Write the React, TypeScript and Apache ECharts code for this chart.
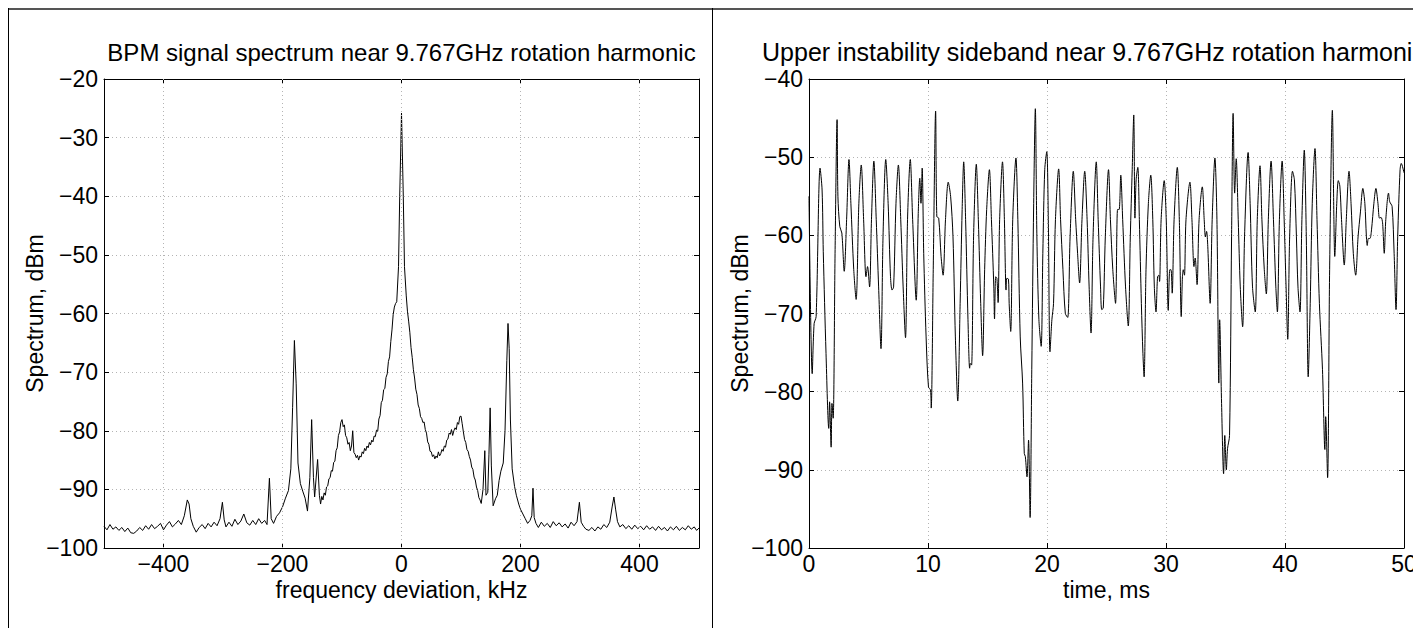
import React, { useEffect, useRef } from 'react';
import * as echarts from 'echarts';

const FONT = '"Liberation Sans", Arial, Helvetica, sans-serif';

// ---------- Left panel: BPM spectrum (frequency deviation kHz, dBm) ----------
const spectrumLowerTail: [number, number][] = [
  [-500, -96.3], [-495, -96.9], [-490, -96.0], [-485, -96.8], [-480, -96.4], [-475, -97.0],
  [-470, -96.5], [-465, -97.2], [-460, -96.6], [-455, -97.4], [-450, -97.5], [-445, -97.1],
  [-440, -96.5], [-435, -97.0], [-430, -96.2], [-425, -96.8], [-420, -96.0], [-415, -96.7],
  [-410, -96.3], [-405, -95.8], [-400, -96.9], [-395, -96.1], [-390, -95.5], [-385, -96.4],
  [-380, -95.9], [-375, -95.3], [-370, -96.0], [-365, -94.5], [-360, -91.8], [-357, -92.5],
  [-354, -95.0], [-350, -96.3], [-345, -97.3], [-340, -96.5], [-335, -96.0], [-330, -96.7],
  [-325, -95.8], [-320, -96.4], [-315, -95.6], [-310, -96.2], [-305, -95.0], [-301, -92.2],
  [-298, -95.2], [-295, -96.4], [-290, -95.6], [-285, -96.3], [-280, -95.1], [-275, -96.0],
  [-270, -95.4], [-265, -94.2], [-260, -95.7], [-255, -96.1], [-250, -95.3], [-245, -96.0],
  [-240, -95.0], [-235, -95.8], [-230, -95.3], [-226, -96.0], [-222, -88.1], [-219, -95.0],
  [-215, -95.8], [-210, -94.6], [-205, -94.0], [-200, -93.0], [-195, -91.5], [-190, -90.2],
];

const spectrumCore: [number, number][] = [
  [-186, -86.5], [-183, -76.0], [-180, -64.6], [-177, -72.0], [-174, -85.5], [-170, -89.0],
  [-166, -90.3], [-162, -91.5], [-158, -93.7], [-154, -88.0], [-151, -78.1], [-148, -88.0],
  [-146, -91.3], [-141, -84.9], [-138, -91.0], [-136, -92.5], [-134, -91.2], [-132, -91.8],
  [-130, -90.6], [-128, -91.0], [-126, -89.6], [-124, -89.4], [-122, -88.2], [-120, -88.0],
  [-118, -86.8], [-116, -86.9], [-114, -85.4], [-112, -85.2], [-110, -83.4], [-108, -82.9],
  [-106, -80.8], [-104, -80.2], [-102, -78.6], [-100, -78.1], [-98, -79.3], [-96, -79.0],
  [-94, -80.8], [-92, -81.2], [-90, -82.3], [-88, -82.0], [-86, -83.4], [-84, -82.6],
  [-82, -80.0], [-80, -83.7], [-78, -84.0], [-76, -84.6], [-74, -84.2], [-72, -85.0],
  [-70, -84.3], [-68, -84.5], [-66, -83.6], [-64, -83.9], [-62, -83.0], [-60, -83.4],
  [-58, -82.6], [-56, -82.9], [-54, -82.0], [-52, -82.4], [-50, -81.6], [-48, -81.9],
  [-46, -80.9], [-44, -81.0], [-42, -79.9], [-40, -80.1], [-38, -78.0], [-36, -77.4],
  [-34, -75.2], [-32, -74.8], [-30, -73.0], [-28, -72.8], [-26, -70.9], [-24, -70.3],
  [-22, -68.2], [-20, -67.4], [-18, -64.8], [-16, -62.8], [-14, -60.2], [-12, -58.9],
  [-10, -58.3], [-8, -58.0], [-5, -52.0], [-3, -40.0], [0, -25.8], [3, -40.0],
  [5, -52.0], [8, -57.0], [10, -59.6], [12, -61.3], [14, -63.2], [16, -65.8],
  [18, -67.5], [20, -69.6], [22, -71.0], [24, -72.9], [26, -73.8], [28, -75.6],
  [30, -76.2], [32, -77.6], [34, -77.9], [36, -78.6], [38, -78.5], [40, -79.8],
  [42, -80.4], [44, -81.9], [46, -82.3], [48, -83.5], [50, -83.6], [52, -84.4],
  [54, -84.1], [56, -84.8], [58, -84.3], [60, -84.6], [62, -83.6], [64, -84.3],
  [66, -83.9], [68, -83.2], [70, -83.5], [72, -82.6], [74, -82.8], [76, -81.6],
  [78, -81.4], [80, -80.4], [82, -80.6], [84, -79.8], [86, -80.8], [88, -80.0],
  [90, -79.5], [92, -79.8], [94, -78.6], [96, -78.9], [98, -77.6], [100, -77.5],
  [102, -78.8], [104, -80.2], [106, -81.5], [108, -82.0], [110, -83.2], [112, -83.5],
  [114, -84.4], [116, -85.0], [118, -86.2], [120, -86.6], [122, -87.9], [124, -88.4],
  [126, -89.6], [128, -90.2], [130, -91.4], [132, -91.8], [134, -92.4], [137, -90.0],
  [140, -83.4], [142, -91.0], [145, -90.5], [147, -84.0], [149, -76.1], [151, -86.0],
  [154, -92.8], [158, -91.6], [161, -91.0], [164, -88.5], [167, -86.9], [171, -85.5],
  [174, -80.0], [177, -68.0], [179, -61.7], [181, -66.0], [183, -78.0], [186, -86.5],
  [190, -89.5], [193, -91.0], [197, -92.5],
];

const spectrumUpperTail: [number, number][] = [
  [200, -93.4], [204, -94.2], [208, -95.0], [212, -95.8], [216, -95.3], [219, -94.5],
  [221, -89.8], [223, -94.8], [226, -95.8], [230, -96.5], [235, -95.6], [240, -96.3],
  [245, -95.8], [250, -96.5], [255, -95.5], [260, -96.2], [265, -95.7], [270, -96.4],
  [275, -95.9], [280, -96.6], [285, -95.6], [290, -96.2], [295, -95.5], [299, -92.2],
  [302, -95.6], [306, -96.3], [310, -96.8], [315, -97.0], [320, -96.5], [325, -97.1],
  [330, -96.4], [335, -96.8], [340, -96.0], [345, -96.5], [350, -95.6], [354, -93.0],
  [357, -91.3], [360, -93.5], [363, -95.5], [367, -96.4], [372, -96.0], [377, -96.7],
  [382, -96.2], [387, -96.8], [392, -96.1], [397, -96.7], [402, -96.3], [407, -96.9],
  [412, -96.2], [417, -96.8], [422, -96.4], [427, -97.0], [432, -96.3], [437, -96.9],
  [442, -96.5], [447, -97.1], [452, -96.4], [457, -96.9], [462, -96.3], [467, -97.0],
  [472, -96.5], [477, -96.9], [482, -96.2], [487, -96.8], [492, -96.4], [496, -97.0],
  [500, -96.6],
];

// ---------- Right panel: upper sideband vs time (ms, dBm) ----------
const sidebandEarly: [number, number][] = [
  [0.0, -55.0], [0.27, -77.7], [0.43, -71.3], [0.6, -70.4], [0.93, -51.4], [1.1, -54.2],
  [1.2, -62.1], [1.43, -75.1], [1.66, -84.7], [1.73, -81.3], [1.86, -87.1], [1.93, -81.5],
  [2.03, -83.4], [2.19, -62.3], [2.36, -45.2], [2.43, -55.0], [2.59, -58.9], [2.76, -59.7],
  [2.96, -64.6], [3.16, -58.0], [3.36, -50.3], [3.52, -55.9], [3.76, -64.4], [3.96, -68.2],
  [4.19, -55.9], [4.39, -51.0], [4.59, -58.0], [4.79, -65.3], [4.92, -64.0], [5.09, -66.6],
  [5.25, -58.0], [5.45, -50.5], [5.65, -58.0], [5.85, -66.6], [6.05, -74.5], [6.22, -60.2],
  [6.45, -50.3], [6.65, -55.9], [6.85, -65.3], [6.98, -67.0], [7.11, -66.6], [7.31, -55.9],
  [7.51, -51.0], [7.71, -58.0], [7.91, -66.6], [8.11, -73.1], [8.28, -58.0], [8.51, -50.3],
  [8.71, -58.0], [9.01, -68.3], [9.18, -57.2], [9.31, -52.7], [9.41, -55.9], [9.51, -51.4],
  [9.64, -62.3], [9.84, -73.0], [10.04, -79.4], [10.21, -79.8], [10.27, -82.1], [10.44, -64.4],
  [10.64, -44.1], [10.74, -57.6], [10.9, -57.8], [11.1, -62.7], [11.27, -65.1], [11.47, -58.0],
  [11.7, -53.2], [11.9, -55.0], [12.1, -60.2], [12.3, -73.0], [12.5, -81.2], [12.7, -68.7],
  [12.87, -56.7], [13.0, -50.6], [13.16, -58.0], [13.36, -70.8], [13.5, -77.0], [13.56, -76.4],
  [13.66, -76.6], [13.83, -60.2], [14.06, -50.9], [14.23, -58.0], [14.43, -68.7], [14.59, -75.4],
  [14.76, -64.4], [14.93, -56.7], [15.16, -51.6], [15.33, -58.0], [15.53, -66.6], [15.59, -70.7],
  [15.69, -65.3], [15.79, -65.5], [15.89, -68.6], [16.02, -58.0], [16.26, -50.6], [16.42, -58.0],
  [16.56, -67.0], [16.62, -65.5], [16.76, -65.6], [16.82, -68.7], [16.95, -72.3],
];

const sidebandMiddle: [number, number][] = [
  [17.12, -58.0], [17.39, -50.1], [17.55, -58.0], [17.75, -73.0], [17.95, -78.9], [18.09, -87.9],
  [18.18, -88.3], [18.32, -90.9], [18.45, -86.2], [18.58, -96.1], [18.72, -77.2], [18.88, -55.9],
  [19.02, -43.8], [19.15, -60.2], [19.32, -70.8], [19.51, -74.2], [19.65, -62.3], [19.81, -51.6],
  [19.98, -49.3], [20.11, -58.0], [20.25, -74.9], [20.41, -70.8], [20.55, -68.7], [20.71, -58.0],
  [20.98, -51.5], [21.14, -58.0], [21.34, -64.4], [21.54, -70.0], [21.74, -70.5], [21.94, -60.2],
  [22.21, -51.8], [22.41, -58.0], [22.57, -62.3], [22.74, -66.1], [22.94, -58.0], [23.17, -51.8],
  [23.37, -58.0], [23.54, -66.6], [23.7, -72.5], [23.87, -60.2], [24.14, -50.6], [24.3, -58.0],
  [24.5, -66.6], [24.6, -69.5], [24.73, -69.3], [24.9, -60.2], [25.17, -51.6], [25.33, -58.0],
  [25.53, -64.4], [25.76, -68.7], [25.93, -56.7], [26.06, -56.7], [26.2, -52.3], [26.36, -58.0],
  [26.6, -66.6], [26.83, -71.6], [27.0, -60.2], [27.16, -51.6], [27.29, -44.6], [27.39, -57.8],
  [27.49, -52.9], [27.63, -51.3], [27.76, -58.0], [27.93, -68.7], [28.06, -75.1], [28.16, -78.1],
  [28.32, -64.4], [28.52, -55.9], [28.72, -52.3], [28.89, -58.0], [29.02, -66.6], [29.16, -69.8],
  [29.29, -65.3], [29.39, -65.1], [29.46, -65.9], [29.59, -58.0], [29.85, -53.0], [30.02, -58.0],
  [30.19, -69.6], [30.32, -64.4], [30.42, -64.4], [30.52, -67.4], [30.68, -58.0], [30.95, -51.3],
  [31.12, -58.0], [31.28, -70.4], [31.38, -65.3], [31.45, -64.4], [31.55, -65.1], [31.68, -58.0],
  [32.01, -53.2], [32.18, -58.0], [32.35, -64.0], [32.45, -62.9], [32.61, -66.3], [32.78, -58.0],
  [33.05, -53.8], [33.21, -58.0], [33.31, -60.2], [33.41, -59.5], [33.51, -61.4], [33.71, -68.7],
  [33.88, -58.0],
];

const sidebandLate: [number, number][] = [
  [34.11, -50.1], [34.28, -58.0], [34.44, -78.9], [34.51, -70.8], [34.67, -81.5], [34.84, -90.5],
  [34.94, -85.6], [35.07, -90.0], [35.17, -87.3], [35.34, -85.6], [35.51, -60.2], [35.64, -44.4],
  [35.77, -54.6], [35.9, -50.2], [36.07, -58.0], [36.24, -66.6], [36.44, -71.7], [36.6, -60.2],
  [36.9, -49.4], [37.07, -55.9], [37.27, -66.6], [37.5, -69.8], [37.67, -58.0], [37.9, -51.1],
  [38.06, -58.0], [38.26, -64.4], [38.43, -67.5], [38.6, -58.0], [38.83, -50.5], [39.03, -58.0],
  [39.23, -66.6], [39.36, -69.8], [39.53, -58.0], [39.76, -50.5], [39.93, -58.0], [40.09, -66.6],
  [40.23, -73.3], [40.39, -60.2], [40.63, -51.8], [40.79, -52.9], [40.96, -60.2], [41.09, -66.6],
  [41.26, -69.8], [41.42, -58.0], [41.62, -49.1], [41.79, -60.2], [41.95, -78.1], [42.12, -68.7],
  [42.29, -55.9], [42.52, -48.9], [42.69, -58.0], [42.89, -68.7], [43.15, -77.2], [43.35, -87.4],
  [43.42, -83.2], [43.58, -91.0], [43.75, -64.4], [43.98, -44.0], [44.11, -58.0], [44.18, -62.7],
  [44.35, -55.9], [44.48, -53.0], [44.61, -53.7], [44.75, -58.0], [44.98, -63.8], [45.15, -58.0],
  [45.38, -51.8], [45.55, -55.9], [45.74, -62.3], [45.94, -65.1], [46.14, -60.2], [46.34, -57.0],
  [46.54, -54.0], [46.71, -55.9], [46.84, -60.2], [46.91, -61.3], [47.01, -60.4], [47.14, -60.4],
  [47.27, -59.3], [47.47, -55.9], [47.64, -54.0], [47.81, -55.9], [47.94, -57.8], [48.07, -57.7],
  [48.2, -58.4], [48.34, -62.3], [48.47, -58.0], [48.7, -54.6], [48.8, -55.7], [49.0, -56.3],
  [49.17, -62.3], [49.33, -69.5], [49.47, -60.2], [49.67, -51.6], [49.77, -50.8], [50.0, -52.0],
];

const freqTickValues = [-400, -200, 0, 200, 400];
const leftTitle = 'BPM signal spectrum near 9.767GHz rotation harmonic';
const rightTitle = 'Upper instability sideband near 9.767GHz rotation harmonic';
const leftXName = 'frequency deviation, kHz';
const rightXName = 'time, ms';
const yName = 'Spectrum, dBm';

const minusFmt = (v: number) => String(v).replace('-', '\u2212');

const GRID_COLOR = '#b4b4b4';

function App() {
  const ref = useRef<HTMLDivElement>(null);

  useEffect(() => {
    document.documentElement.style.overflow = 'hidden';
    const chart = echarts.init(ref.current!, undefined, { renderer: 'svg' });

    const axisLine = { show: true, onZero: false, lineStyle: { color: '#000', width: 1 } };
    const tick = { show: true, inside: true, length: 5, lineStyle: { color: '#000', width: 1 } };
    const label = { color: '#000', fontSize: 23, fontFamily: FONT, formatter: minusFmt };
    const split = { show: true, lineStyle: { color: GRID_COLOR, width: 1, type: [1, 3] } };

    const spectrum = [...spectrumLowerTail, ...spectrumCore, ...spectrumUpperTail];
    const sideband = [...sidebandEarly, ...sidebandMiddle, ...sidebandLate];

    const txt = (text: string, x: number, y: number, size: number, rot = 0) => ({
      type: 'text',
      x,
      y,
      rotation: rot,
      silent: true,
      style: {
        text,
        fill: '#000',
        font: `${size}px ${FONT}`,
        align: 'center',
        verticalAlign: 'middle',
      },
    });

    chart.setOption({
      animation: false,
      backgroundColor: '#fff',
      grid: [
        { left: 96, top: 71, width: 595, height: 469 },
        { left: 801, top: 71, width: 595, height: 469 },
      ],
      xAxis: [
        {
          type: 'value', gridIndex: 0, position: 'bottom', min: -500, max: 500, interval: 100,
          axisLine, axisTick: { ...tick, customValues: freqTickValues },
          axisLabel: { ...label, margin: 4, customValues: freqTickValues },
          splitLine: { show: false },
        },
        {
          type: 'value', gridIndex: 0, position: 'top', min: -500, max: 500, interval: 100,
          axisLine, axisTick: { ...tick, customValues: freqTickValues },
          axisLabel: { show: false }, splitLine: { show: false },
        },
        {
          type: 'value', gridIndex: 1, position: 'bottom', min: 0, max: 50, interval: 10,
          axisLine, axisTick: tick, axisLabel: { ...label, margin: 4 }, splitLine: split,
        },
        {
          type: 'value', gridIndex: 1, position: 'top', min: 0, max: 50, interval: 10,
          axisLine, axisTick: tick, axisLabel: { show: false }, splitLine: { show: false },
        },
      ],
      yAxis: [
        {
          type: 'value', gridIndex: 0, position: 'left', min: -100, max: -20, interval: 10,
          axisLine, axisTick: tick, axisLabel: { ...label, margin: 6 }, splitLine: split,
        },
        {
          type: 'value', gridIndex: 0, position: 'right', min: -100, max: -20, interval: 10,
          axisLine, axisTick: tick, axisLabel: { show: false }, splitLine: { show: false },
        },
        {
          type: 'value', gridIndex: 1, position: 'left', min: -100, max: -40, interval: 10,
          axisLine, axisTick: tick, axisLabel: { ...label, margin: 6 }, splitLine: split,
        },
        {
          type: 'value', gridIndex: 1, position: 'right', min: -100, max: -40, interval: 10,
          axisLine, axisTick: tick, axisLabel: { show: false }, splitLine: { show: false },
        },
      ],
      series: [
        {
          type: 'line', xAxisIndex: 0, yAxisIndex: 0, data: spectrum, showSymbol: false,
          symbol: 'none', lineStyle: { color: '#000', width: 1 }, silent: true,
          markLine: {
            silent: true, symbol: 'none', label: { show: false },
            lineStyle: { color: GRID_COLOR, width: 1, type: [1, 3] },
            data: freqTickValues.map((v) => ({ xAxis: v })),
          },
          z: 3,
        },
        {
          type: 'line', xAxisIndex: 2, yAxisIndex: 2, data: sideband, showSymbol: false,
          symbol: 'none', smooth: 0.3, lineStyle: { color: '#000', width: 1 }, silent: true,
          z: 3,
        },
      ],
      graphic: [
        { type: 'line', silent: true, shape: { x1: 0, y1: 1, x2: 1413, y2: 1 }, style: { stroke: '#555', lineWidth: 2 } },
        { type: 'line', silent: true, shape: { x1: 0.5, y1: 0, x2: 0.5, y2: 620 }, style: { stroke: '#000', lineWidth: 1 } },
        { type: 'line', silent: true, shape: { x1: 704.5, y1: 0, x2: 704.5, y2: 620 }, style: { stroke: '#000', lineWidth: 1 } },
        txt(leftTitle, 393.5, 44, 24),
        txt(rightTitle, 1085.5, 44, 25),
        txt(leftXName, 393.5, 582, 23),
        txt(rightXName, 1098.5, 582, 23),
        txt(yName, 27, 305.5, 23, Math.PI / 2),
        txt(yName, 732, 305.5, 23, Math.PI / 2),
      ],
    });

    return () => chart.dispose();
  }, []);

  return <div ref={ref} style={{ width: 1413, height: 620 }} />;
}

export default App;
